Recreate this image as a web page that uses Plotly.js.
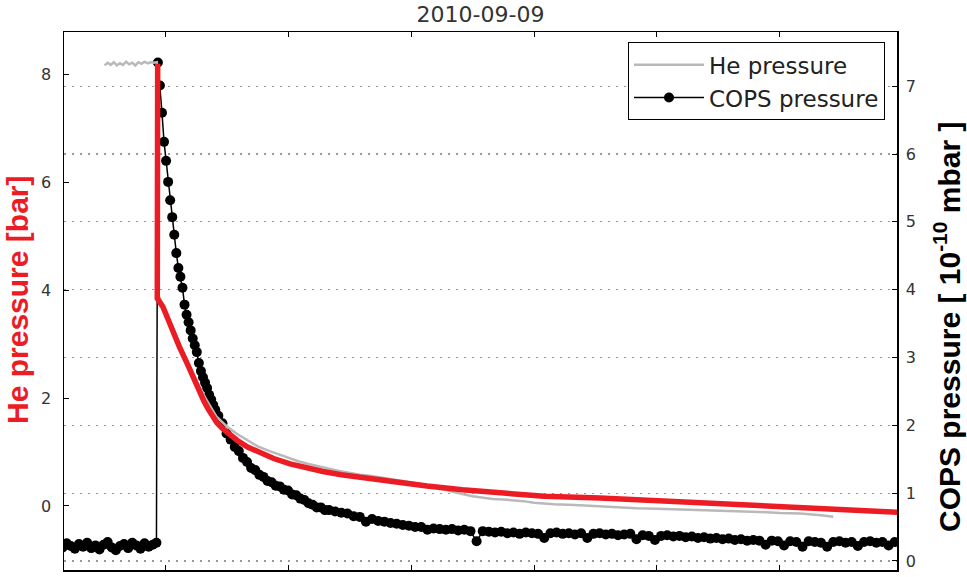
<!DOCTYPE html>
<html>
<head>
<meta charset="utf-8">
<script src="https://cdn.plot.ly/plotly-3.0.1.min.js"></script>
<style>html,body{margin:0;padding:0;background:#fff;}#chart{width:967px;height:577px;}</style>
</head>
<body>
<div id="chart"></div>
<script>
// ---- Data (time in minutes) ----
const chartTitle = "2010-09-09";
const xTicks = [60, 120, 180, 240, 300, 360];
const heTicks = [0, 2, 4, 6, 8];
const copsTicks = [0, 1, 2, 3, 4, 5, 6, 7];

// He pressure [bar] (grey, measured)
const heTime = [30.5,32,33.5,35,36.5,38,39.5,41,42.5,44,45.5,47,48.5,50,51.5,53,54.5,56,
  56.3,60,65,70,75,80,85,90,95,100,105,110,115,120,125,130,135,140,145,150,155,160,165,170,175,180,185,
  190,195,200,205,210,215,220,225,230,235,240,245,250,260,270,280,290,300,310,320,330,340,350,360,370,380,386];
const heValues = [8.17,8.22,8.18,8.23,8.17,8.21,8.18,8.24,8.19,8.22,8.17,8.23,8.20,8.24,8.21,8.23,8.22,8.23,
  3.95,3.62,3.18,2.76,2.36,1.98,1.66,1.48,1.34,1.22,1.11,1.03,0.96,0.89,0.83,0.78,0.73,0.69,0.65,0.61,0.58,0.56,0.53,0.50,0.47,0.44,0.41,
  0.36,0.31,0.27,0.22,0.18,0.15,0.13,0.12,0.11,0.09,0.06,0.04,0.03,0.02,0.00,-0.03,-0.04,-0.05,-0.06,-0.07,-0.09,-0.10,-0.11,-0.13,-0.14,-0.17,-0.20];

// He pressure fit (red)
const fitTime = [56.4,56.2,59.0,61.5,63.9,67.0,70.7,74.0,77.1,79.0,81.0,83.2,85.4,88.0,90.0,92.5,95.1,100.5,106.3,113.0,121.0,129.0,137.1,146.0,155.1,
  170.0,187.8,205.0,223.4,245.0,272.2,300.0,321.0,345.0,369.8,395.0,417.1,425.0];
const fitValues = [8.20,3.85,3.69,3.45,3.26,2.95,2.65,2.35,2.09,1.94,1.80,1.66,1.54,1.44,1.37,1.29,1.22,1.09,0.98,0.88,0.78,0.70,0.64,0.58,0.53,
  0.45,0.37,0.30,0.24,0.18,0.15,0.10,0.07,0.02,-0.03,-0.08,-0.12,-0.13];

// COPS pressure [1e-10 mbar] (black markers)
const copsTime = [8,10,12,14,16,18,20,22,24,26,28,30,32,34,36,38,40,42,44,46,48,50,52,54,55.8,
  56.5,57.5,58.5,59.5,60.5,61.5,62.5,63.5,64.5,65.5,66.5,67.5,68.5,69.5,70.5,
  71.5,72.5,73.5,74.5,75.5,76.5,77.5,78.5,79.5,80.5,81.5,82.5,83.5,84.5,
  86,88,90,92,94,96,98,100,102,104,106,108,110,112,114,116,118,120,122,124,126,128,130,132,134,136,138,140,
  143,146,149,152,155,158,161,164,167,170,173,176,179,182,185,188,191,194,197,200,203,206,209,212,215,218,
  221,224,227,230,233,236,239,242,245,248,251,254,257,260,263,266,269,272,275,278,281,284,287,290,293,296,
  299,302,305,308,311,314,317,320,323,326,329,332,335,338,341,344,347,350,353,356,359,362,365,368,371,374,
  377,380,383,386,389,392,395,398,401,404,407,410,413,416,419];
const copsValues = [0.24,0.20,0.26,0.22,0.18,0.25,0.21,0.27,0.19,0.23,0.17,0.24,0.28,0.20,0.16,0.22,0.25,0.19,0.27,0.23,0.18,0.26,0.21,0.24,0.27,
  7.35,7.01,6.61,6.18,5.90,5.59,5.32,5.07,4.81,4.54,4.32,4.19,4.03,3.78,3.63,
  3.52,3.40,3.28,3.18,3.08,2.92,2.80,2.71,2.63,2.55,2.45,2.38,2.30,2.23,
  2.14,2.03,1.88,1.79,1.68,1.62,1.52,1.46,1.37,1.34,1.27,1.24,1.18,1.16,1.11,1.10,1.05,1.04,0.98,0.97,0.92,0.90,0.85,0.83,0.79,0.79,0.75,0.75,
  0.73,0.71,0.70,0.66,0.65,0.58,0.62,0.59,0.58,0.56,0.55,0.53,0.52,0.50,0.50,0.46,0.48,0.47,0.46,0.47,0.45,0.46,0.44,0.29,0.44,0.43,
  0.42,0.43,0.41,0.42,0.40,0.42,0.41,0.40,0.34,0.41,0.42,0.40,0.41,0.39,0.41,0.34,0.40,0.41,0.39,0.40,0.38,0.39,0.40,0.32,0.38,0.37,
  0.31,0.37,0.38,0.36,0.37,0.35,0.36,0.34,0.35,0.33,0.34,0.32,0.33,0.31,0.32,0.30,0.31,0.30,0.24,0.30,0.29,0.23,0.29,0.28,0.21,0.29,
  0.28,0.27,0.21,0.28,0.29,0.27,0.28,0.22,0.28,0.29,0.27,0.28,0.23,0.28,0.29];

// ---- Traces ----
const tickFont = {family: "DejaVu Sans", size: 16, color: "#333"};

const traces = [
  {x: heTime, y: heValues, yaxis: "y2", type: "scatter", mode: "lines", name: "He pressure",
   line: {color: "#b9b9b9", width: 2.5}},
  {x: fitTime, y: fitValues, yaxis: "y2", type: "scatter", mode: "lines", name: "He fit", showlegend: false,
   line: {color: "rgb(236,28,36)", width: 5.5}},
  {x: copsTime, y: copsValues, yaxis: "y", type: "scatter", mode: "lines+markers", name: "COPS pressure",
   line: {color: "#000", width: 1.5}, marker: {color: "#000", size: 10}}
];

const layout = {
  width: 967, height: 577,
  margin: {l: 64, r: 70, t: 32, b: 7},
  paper_bgcolor: "#fff", plot_bgcolor: "#fff",
  title: {text: chartTitle, font: {family: "DejaVu Sans", size: 22, color: "#333"},
          x: 0.5, xref: "paper", xanchor: "center", y: 0.976, yref: "container", yanchor: "middle"},
  showlegend: true,
  legend: {x: 0.9856, xanchor: "right", y: 0.981, yanchor: "top",
           bgcolor: "#fff", bordercolor: "#000", borderwidth: 1,
           font: {family: "DejaVu Sans", size: 23, color: "#222"}, itemwidth: 70, tracegroupgap: 0},
  xaxis: {range: [10.7, 417.1], tickvals: xTicks, showticklabels: false, ticks: "inside", ticklen: 5,
          tickcolor: "#000", showline: true, linecolor: "#000", linewidth: 1.5, mirror: "ticks",
          showgrid: false, zeroline: false, fixedrange: true},
  yaxis: {range: [-0.133, 7.80], tickvals: copsTicks, side: "right", ticks: "inside", ticklen: 5,
          tickcolor: "#000", showline: true, linecolor: "#000", linewidth: 1.5,
          showgrid: true, gridcolor: "#9a9a9a", gridwidth: 1.2, griddash: "2px,6px",
          zeroline: false, tickfont: tickFont, ticklabelstandoff: 4},
  yaxis2: {range: [-1.187, 8.79], tickvals: heTicks, side: "left", overlaying: "y", ticks: "inside", ticklen: 5,
           tickcolor: "#000", showline: true, linecolor: "#000", linewidth: 1.5,
           showgrid: false, zeroline: false, tickfont: tickFont, ticklabelstandoff: 8},
  annotations: [
    {text: "<b>He pressure [bar]</b>", textangle: -90, xref: "paper", yref: "paper",
     x: -0.0552, y: 0.502, xanchor: "center", yanchor: "middle", showarrow: false,
     font: {family: "Liberation Sans", size: 30, color: "rgb(236,28,36)"}},
    {text: "<b>COPS pressure [ 10<sup>-10</sup> mbar ]</b>", textangle: -90, xref: "paper", yref: "paper",
     x: 1.0600, y: 0.4535, xanchor: "center", yanchor: "middle", showarrow: false,
     font: {family: "Liberation Sans", size: 30, color: "#000"}}
  ]
};

Plotly.newPlot("chart", traces, layout, {displayModeBar: false, staticPlot: true});
</script>
</body>
</html>
